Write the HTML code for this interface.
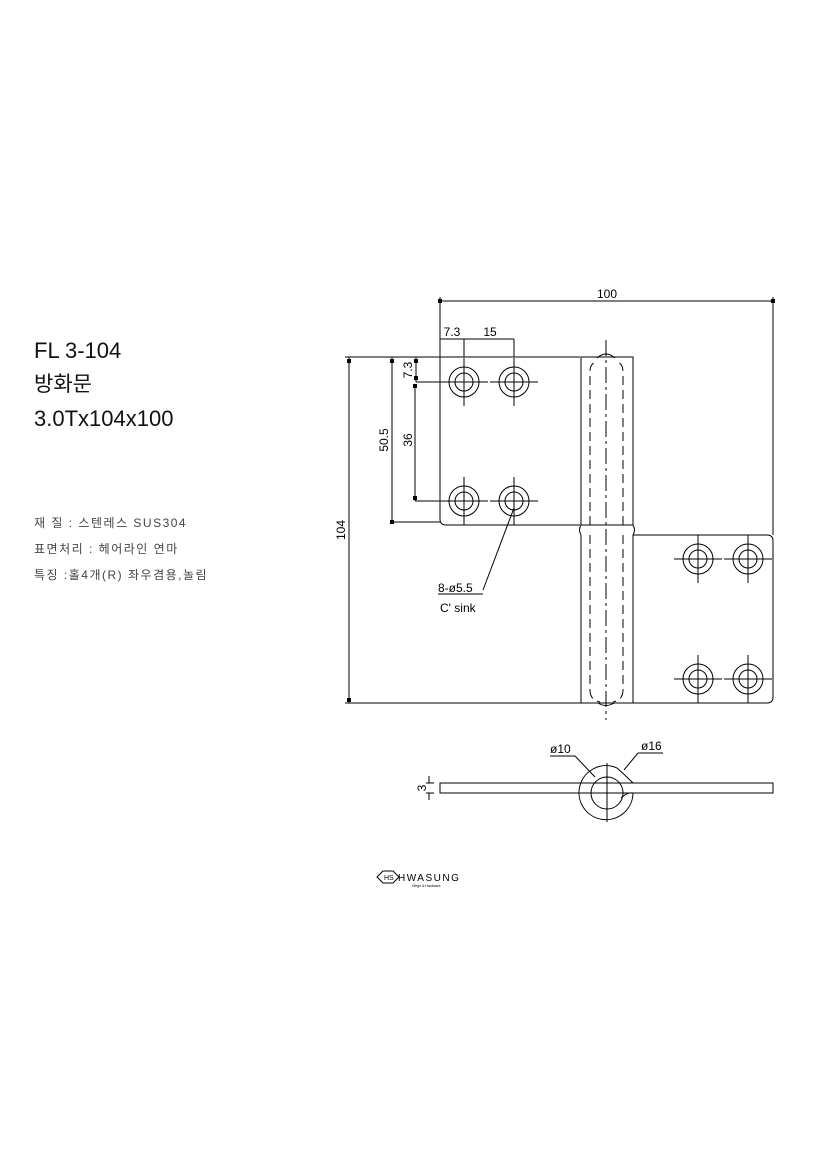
<!DOCTYPE html>
<html><head><meta charset="utf-8"><style>
html,body{margin:0;padding:0;background:#fff;}
svg{display:block}
</style></head><body>
<svg width="827" height="1169" viewBox="0 0 827 1169" xmlns="http://www.w3.org/2000/svg" font-family="Liberation Sans, Noto Sans CJK KR, sans-serif">
<defs>
<g id="h" stroke="#000" stroke-width="1" fill="none"><circle r="15"/><circle r="9"/><line x1="-24" y1="0" x2="24" y2="0"/><line x1="0" y1="-24" x2="0" y2="24"/></g>
</defs>
<rect width="827" height="1169" fill="#fff"/>
<g fill="#111">
<text x="34" y="358" font-size="22">FL 3-104</text>
<text x="34" y="391" font-size="21" font-family="Noto Sans CJK KR, sans-serif">방화문</text>
<text x="34" y="426" font-size="22">3.0Tx104x100</text>
</g>
<g fill="#444" font-size="12" font-family="Liberation Sans, Noto Sans CJK KR, sans-serif">
<text x="34" y="527" letter-spacing="1.5">재 질 : 스텐레스 SUS304</text>
<text x="34" y="553" letter-spacing="1.5">표면처리 : 헤어라인 연마</text>
<text x="34" y="579" letter-spacing="1.5">특징 :홀4개(R) 좌우겸용,놀림</text>
</g>
<g stroke="#000" stroke-width="1" fill="none">
<line x1="440" y1="301" x2="773" y2="301"/>
<line x1="440" y1="297" x2="440" y2="357"/>
<line x1="773" y1="297" x2="773" y2="535"/>
<line x1="440" y1="339" x2="514" y2="339"/>
<line x1="464" y1="339" x2="464" y2="357"/>
<line x1="514" y1="339" x2="514" y2="357"/>
<path d="M580 357 H440 V519 Q440 525 446 525 H580"/>
<rect x="581" y="357" width="52" height="168"/>
<path d="M581 525 Q578 530 581 535 M633 525 Q636 530 633 535"/>
<line x1="581" y1="535" x2="581" y2="703"/>
<line x1="633" y1="535" x2="633" y2="703"/>
<line x1="577" y1="703" x2="633" y2="703"/>
<path d="M633 535 H767 Q773 535 773 541 V697 Q773 703 767 703 H633"/>
<g stroke-dasharray="9,5">
<path d="M590 525 V372 Q590 362 598 362 M623 525 V372 Q623 362 615 362"/>
<line x1="590" y1="535" x2="590" y2="690"/>
<line x1="623" y1="535" x2="623" y2="690"/>
<path d="M590 690 Q590 700 600 702 M623 690 Q623 700 613 702"/>
</g>
<path d="M597 358 Q606 350 615 358"/>
<path d="M598 703 Q606 708 614 703"/>
<line x1="606" y1="340" x2="606" y2="720" stroke-dasharray="16,4,3,4"/>
<line x1="349" y1="357" x2="349" y2="703"/>
<line x1="345" y1="357" x2="440" y2="357"/>
<line x1="345" y1="703" x2="577" y2="703"/>
<line x1="392" y1="357" x2="392" y2="522"/>
<line x1="392" y1="522" x2="440" y2="522"/>
<line x1="416" y1="357" x2="416" y2="382"/>
<line x1="416" y1="382" x2="448" y2="382"/>
<line x1="415" y1="385" x2="415" y2="501"/>
<line x1="415" y1="501" x2="448" y2="501"/>
<line x1="514" y1="508" x2="483" y2="590"/>
<line x1="438" y1="594" x2="483" y2="594"/>
<rect x="440" y="783" width="333" height="10"/>
<circle cx="607" cy="793" r="16"/>
<path d="M633 793 A27 27 0 1 1 617 768 Q625 775 633 783"/>
<path d="M633 793 Q627 792 621 798"/>
<line x1="607" y1="763" x2="607" y2="822"/>
<line x1="426" y1="783" x2="434" y2="783"/>
<line x1="426" y1="793" x2="434" y2="793"/>
<line x1="429" y1="776" x2="429" y2="783"/>
<line x1="429" y1="793" x2="429" y2="800"/>
<line x1="550" y1="756" x2="575" y2="756"/>
<line x1="575" y1="756" x2="595" y2="777"/>
<line x1="638" y1="753" x2="663" y2="753"/>
<line x1="638" y1="753" x2="624" y2="770"/>
</g>
<g fill="#000">
<rect x="438" y="299" width="4" height="4"/><rect x="771" y="299" width="4" height="4"/>
<rect x="347" y="359" width="4" height="4"/><rect x="347" y="698" width="4" height="4"/>
<rect x="390" y="359" width="4" height="4"/><rect x="390" y="520" width="4" height="4"/>
<rect x="414" y="359" width="4" height="4"/><rect x="414" y="376" width="4" height="4"/>
<rect x="413" y="384" width="4" height="4"/><rect x="413" y="496" width="4" height="4"/>
</g>
<use href="#h" x="464" y="382"/><use href="#h" x="514" y="382"/>
<use href="#h" x="464" y="501"/><use href="#h" x="514" y="501"/>
<use href="#h" x="698" y="559"/><use href="#h" x="748" y="559"/>
<use href="#h" x="698" y="679"/><use href="#h" x="748" y="679"/>
<g fill="#000" font-size="12">
<text x="607" y="298" text-anchor="middle">100</text>
<text x="452" y="336" text-anchor="middle">7.3</text>
<text x="490" y="336" text-anchor="middle">15</text>
<text transform="translate(412 370) rotate(-90)" text-anchor="middle">7.3</text>
<text transform="translate(388 440) rotate(-90)" text-anchor="middle">50.5</text>
<text transform="translate(412 440) rotate(-90)" text-anchor="middle">36</text>
<text transform="translate(345 530) rotate(-90)" text-anchor="middle">104</text>
<text x="438" y="592">8-ø5.5</text>
<text x="440" y="612">C'  sink</text>
<text x="550" y="753">ø10</text>
<text x="641" y="750">ø16</text>
<text transform="translate(426 788) rotate(-90)" text-anchor="middle">3</text>
</g>
<path d="M377 877 L383 871 H393 L399 877 L393 883 H383 Z" stroke="#000" fill="none"/>
<text x="384" y="880" font-size="7" fill="#000">HS</text>
<text x="398" y="881" font-size="10" letter-spacing="1.5" fill="#000">HWASUNG</text>
<text x="412" y="887" font-size="3.5" fill="#000">Hinge &amp; Hardware</text>
</svg>
</body></html>
